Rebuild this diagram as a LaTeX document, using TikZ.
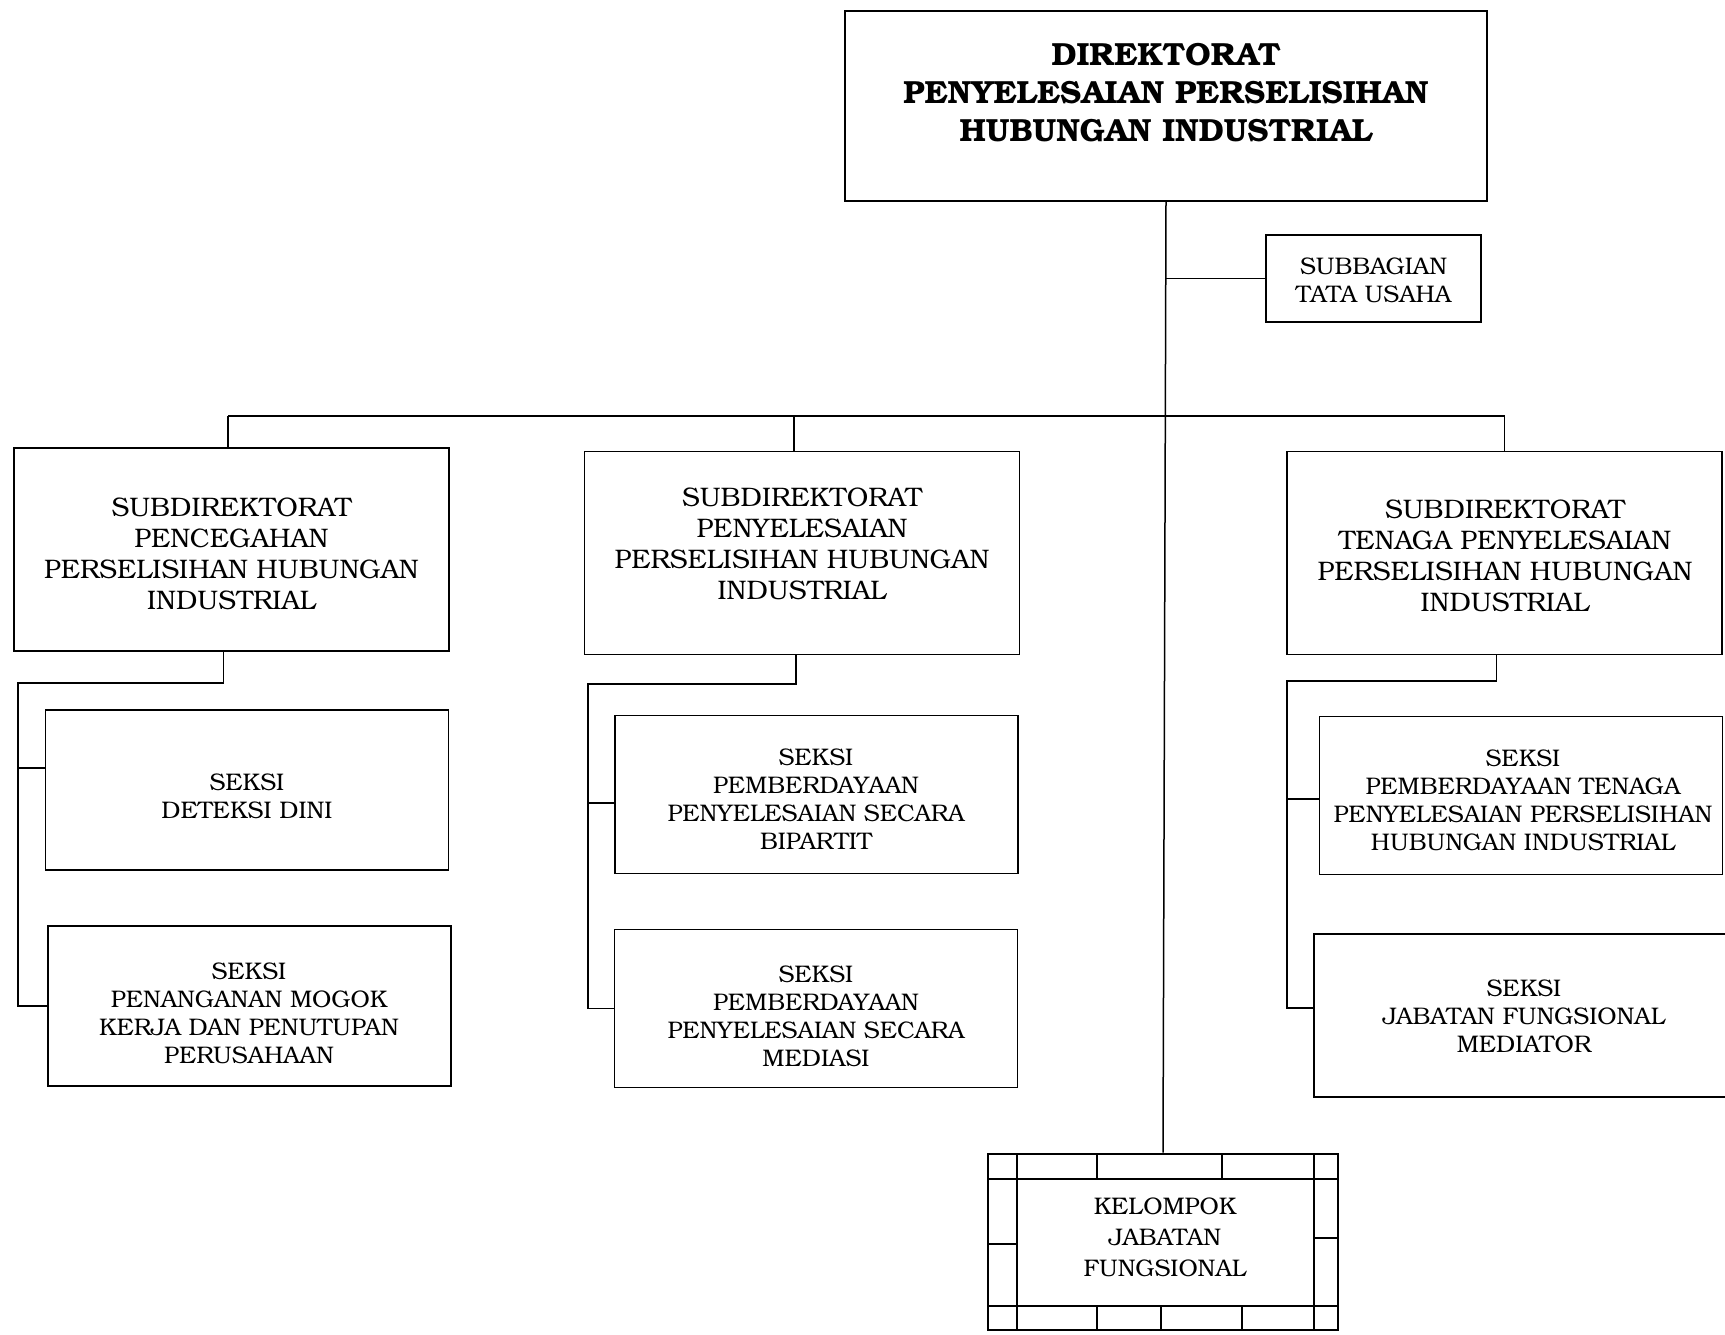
\documentclass[tikz,border=0pt]{standalone}
\usepackage{fontspec}
\setmainfont{TeX Gyre Bonum}
\newcommand\hdfont{\fontsize{16}{19}\selectfont\bfseries}
\newcommand\sdfont{\fontsize{13.4}{15.5}\selectfont}
\newcommand\skfont{\fontsize{12}{14}\selectfont}
\newcommand\klfont{\fontsize{12}{15.5}\selectfont}
\begin{document}
\begin{tikzpicture}[x=0.5pt,y=-0.5pt,
  box/.style={draw, line width=0.85pt, inner sep=0pt},
  subdir/.style={box, minimum width=217.5pt, minimum height=101.5pt},
  seksi/.style={box, minimum width=201.5pt, minimum height=79pt},
  label text/.style={inner sep=0pt, align=center},
  sdtext/.style={label text, font=\sdfont},
  sktext/.style={label text, font=\skfont},
  conn/.style={line width=0.75pt},
  frame/.style={line width=0.85pt}]
\clip (0,0) rectangle (1725,1334);
\fill[white] (0,0) rectangle (1725,1334);

% head of the directorate and its administrative subdivision
\node[box, minimum width=321pt, minimum height=95pt] (dir) at (1166,106) {};
\node[label text, font=\hdfont] (dirt) at (1166,93)
  {DIREKTORAT\\PENYELESAIAN PERSELISIHAN\\HUBUNGAN INDUSTRIAL};
\node[box, minimum width=107.5pt, minimum height=43.5pt] (tu) at (1373.5,278.5) {};
\node[sktext] (tut) at (1373.5,280.5) {SUBBAGIAN\\TATA USAHA};

% sub-directorates
\node[subdir] (sA) at (231.5,549.5) {};
\node[sdtext] (sAt) at (231.5,554)
  {SUBDIREKTORAT\\PENCEGAHAN\\PERSELISIHAN HUBUNGAN\\INDUSTRIAL};
\node[subdir] (sB) at (802,553) {};
\node[sdtext] (sBt) at (802,544)
  {SUBDIREKTORAT\\PENYELESAIAN\\PERSELISIHAN HUBUNGAN\\INDUSTRIAL};
\node[subdir] (sC) at (1504.5,553) {};
\node[sdtext] (sCt) at (1505,556)
  {SUBDIREKTORAT\\TENAGA PENYELESAIAN\\PERSELISIHAN HUBUNGAN\\INDUSTRIAL};

% sections
\node[seksi, minimum height=80pt] (a1) at (247,790) {};
\node[sktext] (a1t) at (247,796) {SEKSI\\DETEKSI DINI};
\node[seksi, minimum height=80pt] (a2) at (249.5,1006) {};
\node[sktext] (a2t) at (249,1013)
  {SEKSI\\PENANGANAN MOGOK\\KERJA DAN PENUTUPAN\\PERUSAHAAN};
\node[seksi] (b1) at (816.5,794.5) {};
\node[sktext] (b1t) at (816,799)
  {SEKSI\\PEMBERDAYAAN\\PENYELESAIAN SECARA\\BIPARTIT};
\node[seksi] (b2) at (816,1008.5) {};
\node[sktext] (b2t) at (816,1016)
  {SEKSI\\PEMBERDAYAAN\\PENYELESAIAN SECARA\\MEDIASI};
\node[seksi] (c1) at (1521,795.5) {};
\node[sktext] (c1t) at (1523,800)
  {SEKSI\\PEMBERDAYAAN TENAGA\\PENYELESAIAN PERSELISIHAN\\HUBUNGAN INDUSTRIAL};
\node[seksi, minimum width=210pt, minimum height=81.5pt] (c2) at (1524,1015.5) {};
\node[sktext] (c2t) at (1524,1016) {SEKSI\\JABATAN FUNGSIONAL\\MEDIATOR};

% functional group with its brick frame
\node[inner sep=0pt, minimum width=175pt, minimum height=89pt] (kel) at (1163,1242) {};
\node[label text, font=\klfont] (kelt) at (1165,1237) {KELOMPOK\\JABATAN\\FUNGSIONAL};
\draw[frame] (988,1154) rectangle (1338,1330);
\draw[frame] (1017,1154) -- (1017,1330) (1314,1154) -- (1314,1330)
  (988,1179) -- (1338,1179) (988,1306) -- (1338,1306)
  (1097,1154) -- (1097,1179) (1222,1154) -- (1222,1179)
  (1097,1306) -- (1097,1330) (1161,1306) -- (1161,1330) (1242,1306) -- (1242,1330)
  (988,1244) -- (1017,1244) (1314,1238) -- (1338,1238);

% main trunk
\draw[conn] (dir.south) -- (kel.north);
\draw[conn] (dir.south |- tu.west) -- (tu.west);

% bus to the sub-directorates
\coordinate (bus) at (0,416);
\draw[conn] ([xshift=-1.75pt]sA.north |- bus) -- (sC.north |- bus);
\draw[conn] ([xshift=-1.75pt]sA.north |- bus) -- ([xshift=-1.75pt]sA.north);
\draw[conn] ([xshift=-4pt]sB.north |- bus) -- ([xshift=-4pt]sB.north);
\draw[conn] (sC.north |- bus) -- (sC.north);

% left branch
\coordinate (xa) at (18,0);
\coordinate (ya) at (0,683);
\coordinate (ya1) at (0,768);
\draw[conn] ([xshift=-4pt]sA.south) |- (xa |- ya) -- (xa |- a2.west) -- (a2.west);
\draw[conn] (xa |- ya1) -- (a1.west |- ya1);

% middle branch
\coordinate (xb) at (588,0);
\coordinate (yb) at (0,684);
\coordinate (yb1) at (0,803);
\draw[conn] ([xshift=-3pt]sB.south) |- (xb |- yb) -- (xb |- b2.west) -- (b2.west);
\draw[conn] (xb |- yb1) -- (b1.west |- yb1);

% right branch
\coordinate (xc) at (1287,0);
\coordinate (yc) at (0,681);
\coordinate (yc1) at (0,799);
\coordinate (yc2) at (0,1008);
\draw[conn] ([xshift=-4pt]sC.south) |- (xc |- yc) -- (xc |- yc2) -- (c2.west |- yc2);
\draw[conn] (xc |- yc1) -- (c1.west |- yc1);
\end{tikzpicture}
\end{document}
